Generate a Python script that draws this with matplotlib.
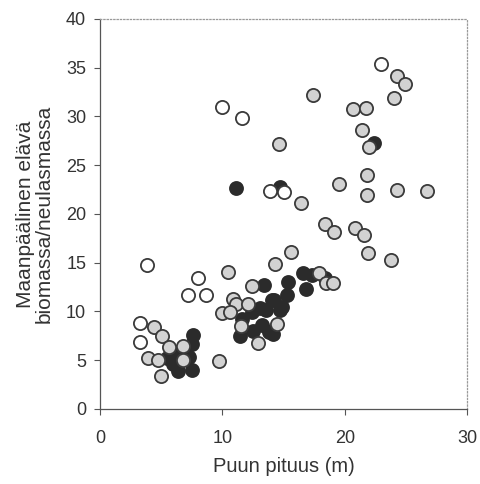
import numpy as np
import matplotlib
matplotlib.use('Agg')
import matplotlib.pyplot as plt

plt.rcParams['font.family'] = ['Liberation Sans', 'DejaVu Sans']

# open circles
open_x = [10.0, 11.6, 13.9, 15.0, 23.0, 3.8, 8.0, 7.2, 8.7, 3.3, 3.3]
open_y = [31.0, 29.8, 22.3, 22.2, 35.4, 14.8, 13.4, 11.7, 11.7, 8.8, 6.9]

# grey (hatched) circles
grey_x = [14.6, 24.3, 24.9, 17.4, 24.05, 20.7, 21.7, 21.4, 22.0, 21.8, 19.5, 24.3,
          26.7, 21.8, 16.4, 18.35, 19.1, 20.8, 21.6, 21.9, 23.75, 15.6, 14.3, 17.9,
          18.5, 19.05, 10.5, 12.45, 10.85, 11.1, 12.1, 10.0, 10.65, 11.55, 14.45,
          12.95, 9.75, 4.4, 5.1, 5.65, 6.75, 3.9, 4.7, 6.8, 5.0]
grey_y = [27.2, 34.1, 33.35, 32.2, 31.9, 30.75, 30.85, 28.6, 26.85, 24.0, 23.1, 22.45,
          22.3, 21.9, 21.15, 19.0, 18.1, 18.6, 17.8, 15.95, 15.25, 16.1, 14.9, 13.95,
          12.95, 12.95, 14.0, 12.6, 11.3, 10.8, 10.8, 9.8, 9.9, 8.5, 8.75,
          6.8, 4.9, 8.4, 7.5, 6.35, 6.45, 5.2, 5.05, 5.05, 3.35]

# black circles
black_x = [11.1, 14.7, 22.4, 16.6, 17.3, 18.4, 15.4, 16.8, 13.4, 15.3, 14.2, 14.7,
           13.6, 14.05, 13.1, 12.4, 11.6, 13.2, 12.5, 13.8, 14.1, 11.45, 14.9,
           7.6, 7.5, 6.0, 7.5, 6.4, 5.5, 7.3, 6.2]
black_y = [22.7, 22.8, 27.3, 13.9, 13.7, 13.4, 13.0, 12.35, 12.7, 11.65, 11.15, 10.2,
           10.1, 11.2, 10.4, 9.9, 9.25, 8.6, 8.0, 7.9, 7.7, 7.5, 10.5,
           7.6, 6.7, 4.6, 4.0, 3.9, 5.2, 5.3, 5.8]

fig = plt.figure(figsize=(4.81, 4.84), dpi=100)
ax = fig.add_axes([0.208, 0.155, 0.763, 0.806])

ms = 90
ax.scatter(black_x, black_y, s=ms, c='#2b2b2b', edgecolors='#2b2b2b', linewidths=1.2, zorder=2)
ax.scatter(grey_x, grey_y, s=ms, c='#d2d2d2', edgecolors='#3a3a3a', linewidths=1.3, zorder=3)
ax.scatter(open_x, open_y, s=ms, c='white', edgecolors='#3a3a3a', linewidths=1.3, zorder=3)

ax.set_xlim(0, 30)
ax.set_ylim(0, 40)
ax.set_xticks([0, 10, 20, 30])
ax.set_yticks(np.arange(0, 41, 5))
ax.tick_params(direction='out', length=4, width=0.8, color='#555555',
               labelsize=13, labelcolor='#333333')
ax.tick_params(axis='x', pad=11)
ax.tick_params(axis='y', pad=6)

for s in ['left', 'bottom']:
    ax.spines[s].set_color('#555555')
    ax.spines[s].set_linewidth(0.9)
for s in ['top', 'right']:
    ax.spines[s].set_color('#999999')
    ax.spines[s].set_linestyle(':')
    ax.spines[s].set_linewidth(0.9)

ax.set_xlabel('Puun pituus (m)', fontsize=14.5, color='#333333', labelpad=7)
ax.set_ylabel('Maanpäälinen elävä\nbiomassa/neulasmassa', fontsize=15,
              color='#333333', labelpad=9, linespacing=1.0)

fig.savefig('out.png', dpi=100)
